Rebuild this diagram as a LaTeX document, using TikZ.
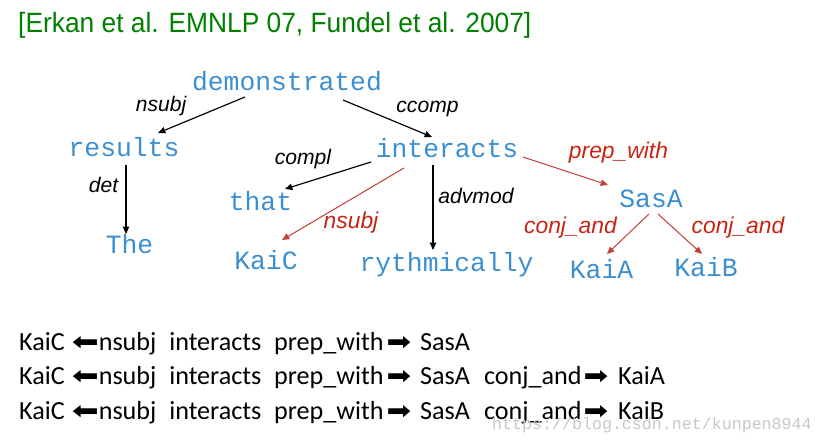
\documentclass[tikz,border=0pt]{standalone}
\usepackage{fontspec}
\usepackage{graphicx}
\usepackage{tikz}
\usetikzlibrary{arrows.meta,calc}
\newfontfamily\arialfont{Liberation Sans}
\newfontfamily\courfont{Liberation Mono}
\newfontfamily\calfont{Carlito}
\newfontfamily\dejavu{DejaVu Sans}
\definecolor{wordblue}{RGB}{59,143,209}
\definecolor{labred}{RGB}{200,36,20}
\definecolor{edgered}{RGB}{192,64,58}
\definecolor{titlegreen}{RGB}{0,128,0}
\newcommand\rarr{\resizebox{21pt}{12pt}{\dejavu ➡}}
\newcommand\larr{\reflectbox{\resizebox{23pt}{12pt}{\dejavu ➡}}}
\tikzset{word/.style={font=\courfont\fontsize{22.5pt}{27pt}\selectfont, text=wordblue, anchor=base, inner sep=0pt},
  lbl/.style={font=\arialfont\itshape\fontsize{18pt}{22pt}\selectfont, anchor=base, inner sep=0pt},
  rlbl/.style={lbl, text=labred, font=\arialfont\itshape\fontsize{19.5pt}{24pt}\selectfont},
  dep/.style={-{Triangle[length=2.2mm,width=1.9mm]}, line width=0.35mm},
  rdep/.style={dep, draw=edgered, fill=edgered, line width=0.3mm},
  path/.style={font=\calfont\fontsize{22.3pt}{26pt}\selectfont, anchor=base west, inner sep=0pt}}

\begin{document}
\begin{tikzpicture}[x=0.3mm, y=-0.3mm]
  \useasboundingbox (0,0) rectangle (823,444);
  \node[font=\arialfont\fontsize{23.8pt}{28pt}\selectfont, text=titlegreen, anchor=base west, inner sep=0pt]
    (title) at (18,33) {\scalebox{0.945}[1]{[Erkan et al. EMNLP 07, Fundel et al. 2007]}};
  % words of the sentence
  \node[word] (dem) at (287,91) {demonstrated};
  \node[word] (res) at (124,157) {results};
  \node[word] (the) at (129.5,253) {The};
  \node[word] (int) at (447,158) {interacts};
  \node[word] (that) at (260.5,210) {that};
  \node[word] (kaic) at (266,269) {KaiC};
  \node[word] (ryth) at (446.5,271) {rythmically};
  \node[word] (sasa) at (651,207) {SasA};
  \node[word] (kaia) at (601.5,278) {KaiA};
  \node[word] (kaib) at (706,276) {KaiB};
  % dependencies
  \draw[dep] ($(dem.base)+(-42,6)$) -- ($(res.base)+(34,-24)$);
  \draw[dep] ($(dem.base)+(56,9)$) -- ($(int.base)+(-15,-21)$);
  \draw[dep] ($(res.base)+(2,8)$) -- ($(the.base)+(-3.5,-19)$);
  \draw[dep] ($(int.base)+(-76,4)$) -- ($(that.base)+(24.5,-21)$);
  \draw[dep] ($(int.base)+(-14,7)$) -- ($(ryth.base)+(-13.5,-21)$);
  \draw[rdep] ($(int.base)+(-43,10)$) -- ($(kaic.base)+(16,-29)$);
  \draw[rdep] ($(int.base)+(76,-1)$) -- ($(sasa.base)+(-43,-22)$);
  \draw[rdep] ($(sasa.base)+(-2,7)$) -- ($(kaia.base)+(5.5,-24)$);
  \draw[rdep] ($(sasa.base)+(7,7)$) -- ($(kaib.base)+(-4,-22)$);
  % labels
  \node[lbl] (l-nsubj) at (161,112) {nsubj};
  \node[lbl] (l-ccomp) at (427.5,113) {ccomp};
  \node[lbl] (l-det) at (103.5,193) {det};
  \node[lbl] (l-compl) at (303,165) {compl};
  \node[lbl] (l-advmod) at (476,204) {advmod};
  \node[rlbl] (l-rnsubj) at (351,228) {nsubj};
  \node[rlbl] (l-prep) at (618.5,159) {prep\_with};
  \node[rlbl] (l-conja) at (570.5,233) {conj\_and};
  \node[rlbl] (l-conjb) at (738,233) {conj\_and};
  % paths
  \node[path] (p1) at (19,350) {KaiC\hspace{6pt}\larr nsubj\hspace{11pt}interacts\hspace{11pt}prep\_with\hspace{2.5pt}\rarr\hspace{7.7pt}SasA};
  \node[path] (p2) at (19,384) {KaiC\hspace{6pt}\larr nsubj\hspace{11pt}interacts\hspace{11pt}prep\_with\hspace{2.5pt}\rarr\hspace{7.7pt}SasA\hspace{12pt}conj\_and\hspace{1.7pt}\rarr\hspace{8.5pt}KaiA};
  \node[path] (p3) at (19,419) {KaiC\hspace{6pt}\larr nsubj\hspace{11pt}interacts\hspace{11pt}prep\_with\hspace{2.5pt}\rarr\hspace{7.7pt}SasA\hspace{12pt}conj\_and\hspace{1.7pt}\rarr\hspace{8.5pt}KaiB};
  \node[font=\courfont\fontsize{14.2pt}{17pt}\selectfont, text=black!22, anchor=base west, inner sep=0pt]
    (mark) at (492,429) {https://blog.csdn.net/kunpen8944};
\end{tikzpicture}
\end{document}
